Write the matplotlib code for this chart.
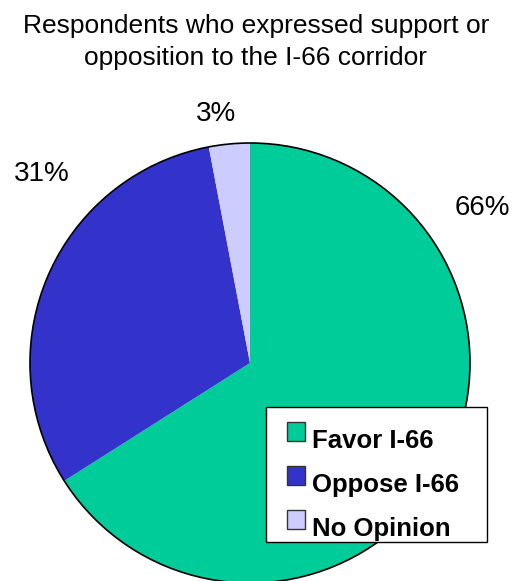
import matplotlib.pyplot as plt
from matplotlib.patches import Circle, Rectangle

plt.rcParams['font.family'] = ['Liberation Sans', 'DejaVu Sans']

# Survey results
categories = ['Favor I-66', 'Oppose I-66', 'No Opinion']
shares = [66, 31, 3]
colors = ['#00CC99', '#3333CC', '#CCCCFF']
title_lines = ['Respondents who expressed support or',
               'opposition to the I-66 corridor']

W, H = 513, 581
fig = plt.figure(figsize=(W / 100, H / 100), dpi=100)
ax = fig.add_axes([0, 0, 1, 1])

# axes units are pixels, y measured from the bottom
cx, cy, r = 250, H - 363, 220
wedges, _ = ax.pie(shares, colors=colors, startangle=90, counterclock=False,
                   center=(cx, cy), radius=r, wedgeprops=dict(linewidth=0),
                   frame=True)
ax.set_xlim(0, W)
ax.set_ylim(0, H)
ax.set_aspect('equal')
ax.axis('off')
ax.add_patch(Circle((cx, cy), r, fill=False, edgecolor='black', lw=1.2))

# percentage labels
label_pos = [(482, H - 208), (42, H - 174), (216, H - 114)]
for val, (x, y) in zip(shares, label_pos):
    ax.text(x, y, f'{val}%', fontsize=20, ha='center', va='center')

# title, two centred lines
for i, line in enumerate(title_lines):
    ax.text(256, H - 33 - 32 * i, line, fontsize=19, ha='center', va='baseline')

# legend box: squares sit a bit higher than the bold labels
ax.add_patch(Rectangle((266, H - 542), 221, 135, facecolor='white',
                       edgecolor='black', lw=1, zorder=3))
for i, (lab, c) in enumerate(zip(categories, colors)):
    top = 422 + 44 * i
    ax.add_patch(Rectangle((287, H - top - 19), 18, 19, facecolor=c,
                           edgecolor='#333333', lw=1, zorder=4))
    ax.text(312, H - 448 - 44 * i, lab, fontsize=18.5, fontweight='bold',
            ha='left', va='baseline', zorder=5)

fig.savefig('out.png', dpi=100)
